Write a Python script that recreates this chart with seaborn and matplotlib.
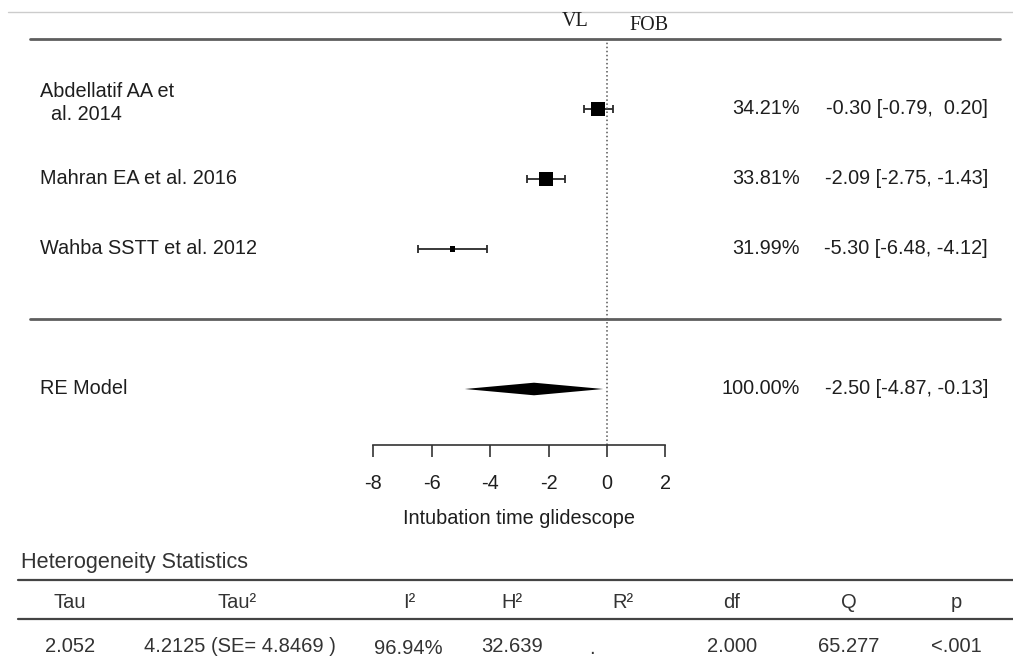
import numpy as np
import pandas as pd
import matplotlib.pyplot as plt
import matplotlib.transforms as mtransforms
from matplotlib.lines import Line2D
import seaborn as sns

# study level results
studies = ['Abdellatif AA et\n  al. 2014', 'Mahran EA et al. 2016', 'Wahba SSTT et al. 2012']
weights = [34.21, 33.81, 31.99]
estimates = [-0.30, -2.09, -5.30]
ci_lower = [-0.79, -2.75, -6.48]
ci_upper = [0.20, -1.43, -4.12]

# pooled random effects model
re_label = 'RE Model'
re_weight = 100.00
re_est = -2.50
re_lower = -4.87
re_upper = -0.13

xlabel = 'Intubation time glidescope'
xticks = [-8, -6, -4, -2, 0, 2]
left_lab, right_lab = 'VL', 'FOB'

# heterogeneity table
het_title = 'Heterogeneity Statistics'
het_header = ['Tau', 'Tau²', 'I²', 'H²', 'R²', 'df', 'Q', 'p']
het_values = ['2.052', '4.2125 (SE= 4.8469 )', '96.94%', '32.639', '.', '2.000', '65.277', '<.001']

df = pd.DataFrame({'study': studies, 'est': estimates, 'lo': ci_lower,
                   'hi': ci_upper, 'weight': weights, 'row': [5, 4, 3]})

sns.set_theme(style='white')
plt.rcParams['font.family'] = ['Liberation Sans', 'DejaVu Sans']

W, H = 1013, 668
fig = plt.figure(figsize=(W / 100, H / 100), dpi=100)
fig.patch.set_facecolor('white')

# forest axes: x in effect units, 0 sits at pixel 607, 29.2 px per unit
x0, ppu = 607, 29.2
top_px, bot_px = 39, 445
ax = fig.add_axes([0, (H - bot_px) / H, 1, (bot_px - top_px) / H])
ax.patch.set_alpha(0)

txtc = '#1e1e1e'
fs = 14.3

ax.errorbar(df.est, df.row, xerr=[df.est - df.lo, df.hi - df.est], fmt='none',
            ecolor='#2a2a2a', elinewidth=1.3, capsize=2.9, capthick=1.3)
sns.scatterplot(data=df, x='est', y='row', size='weight', sizes=(13, 106),
                marker='s', color='black', linewidth=0, legend=False, ax=ax, zorder=3)

# summary diamond
h = 0.09
ax.fill([re_lower, re_est, re_upper, re_est], [1, 1 + h, 1, 1 - h], color='black', lw=0)

ax.axvline(0, ls=':', color='#555555', lw=1.1)
ax.axhline(6, xmin=30 / W, xmax=1000 / W, color='#5e5e5e', lw=2, clip_on=False)
ax.axhline(2, xmin=30 / W, xmax=1000 / W, color='#5e5e5e', lw=2, clip_on=False)

ax.set_xlim(-x0 / ppu, (W - x0) / ppu)
ax.set_ylim(0.2, 6)
ax.set_yticks([])
ax.set_ylabel('')
ax.set_xticks(xticks)
ax.set_xticklabels([str(t) for t in xticks])
for s in ['left', 'right', 'top']:
    ax.spines[s].set_visible(False)
ax.spines['bottom'].set_bounds(xticks[0], xticks[-1])
ax.spines['bottom'].set_color('#333333')
ax.spines['bottom'].set_linewidth(1.2)
ax.tick_params(axis='x', direction='out', length=8.6, width=1.2, color='#333333',
               pad=12, labelsize=fs, labelcolor=txtc, bottom=True)
ax.set_xlabel(xlabel, fontsize=fs, color=txtc)
ax.xaxis.label.set_va('center')
ax.xaxis.set_label_coords((x0 + ppu * np.mean([xticks[0], xticks[-1]])) / W,
                          -(519 - bot_px) / (bot_px - top_px))

trans = mtransforms.blended_transform_factory(ax.transAxes, ax.transData)
for i, r in df.iterrows():
    yoff = 0.086 if '\n' in r.study else 0
    ax.text(40 / W, r.row + yoff, r.study, transform=trans, ha='left', va='center',
            fontsize=fs, color=txtc, linespacing=1.32)
    ax.text(800 / W, r.row, f'{r.weight:.2f}%', transform=trans, ha='right',
            va='center', fontsize=fs, color=txtc)
    ax.text(988 / W, r.row, f'{r.est:.2f} [{r.lo:5.2f}, {r.hi:5.2f}]', transform=trans,
            ha='right', va='center', fontsize=fs, color=txtc)
ax.text(40 / W, 1, re_label, transform=trans, ha='left', va='center', fontsize=fs, color=txtc)
ax.text(800 / W, 1, f'{re_weight:.2f}%', transform=trans, ha='right', va='center',
        fontsize=fs, color=txtc)
ax.text(988 / W, 1, f'{re_est:.2f} [{re_lower:5.2f}, {re_upper:5.2f}]', transform=trans,
        ha='right', va='center', fontsize=fs, color=txtc)

fig.text(575 / W, 1 - 22 / H, left_lab, ha='center', va='center',
         family='Liberation Serif', fontsize=14.5, color=txtc)
fig.text(649 / W, 1 - 25 / H, right_lab, ha='center', va='center',
         family='Liberation Serif', fontsize=14.5, color=txtc)
fig.add_artist(Line2D([8 / W, 1], [1 - 12 / H] * 2, color='#cccccc', lw=1))

# heterogeneity table in pixel coordinates
tax = fig.add_axes([0, 0, 1, (H - 540) / H])
tax.set_xlim(0, W)
tax.set_ylim(H, 540)
tax.axis('off')
tcol = '#333333'
tax.text(21, 568, het_title, ha='left', va='baseline', fontsize=15.6, color=tcol)
tax.plot([18, W], [580, 580], color='#444444', lw=1.6)
tax.plot([18, W], [619, 619], color='#444444', lw=1.6)
head_x = [70, 237, 409, 512, 623, 732, 849, 956]
val_x = [70, 240, 408, 512, 592, 732, 849, 956]
val_y = [652, 652, 654.5, 652, 654, 652, 652, 652]
for hx, lab in zip(head_x, het_header):
    tax.text(hx, 608, lab, ha='center', va='baseline', fontsize=14.5, color=tcol)
for vx, vy, lab in zip(val_x, val_y, het_values):
    tax.text(vx, vy, lab, ha='center', va='baseline', fontsize=14.5, color=tcol)

fig.savefig('out.png', dpi=100)
